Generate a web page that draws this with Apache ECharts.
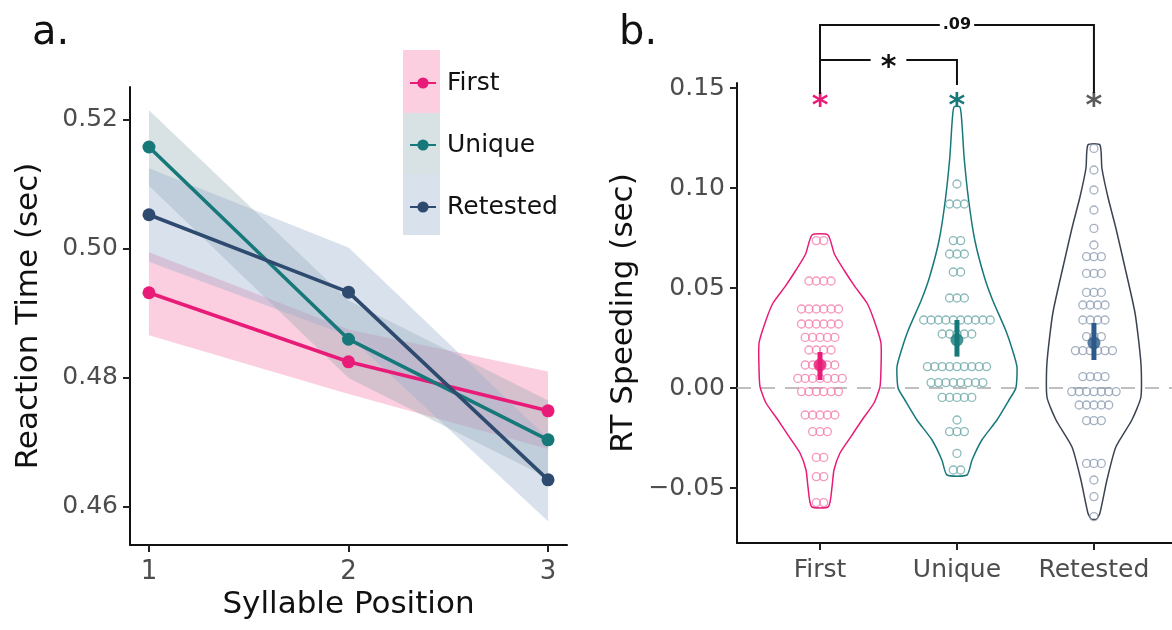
<!DOCTYPE html>
<html>
<head>
<meta charset="utf-8">
<script src="https://cdn.jsdelivr.net/npm/echarts@6/dist/echarts.min.js"></script>
<style>
  html, body { margin: 0; padding: 0; background: #fff; }
  #main { width: 1172px; height: 630px; }
</style>
</head>
<body>
<div id="main"></div>
<script>
// ---- panel a: reaction time by syllable position ----
var positions = [1, 2, 3];
var firstRT = [0.4932, 0.4825, 0.4749];
var firstLow = [0.4866, 0.4775, 0.4690];
var firstHigh = [0.4995, 0.4875, 0.4810];
var uniqueRT = [0.5158, 0.4860, 0.4704];
var uniqueLow = [0.5098, 0.4800, 0.4645];
var uniqueHigh = [0.5215, 0.4920, 0.4765];
var retestedRT = [0.5053, 0.4933, 0.4642];
var retestedLow = [0.4980, 0.4865, 0.4578];
var retestedHigh = [0.5125, 0.5002, 0.4706];
var rtTicks = [0.46, 0.48, 0.50, 0.52];

// ---- panel b: RT speeding ----
var groupNames = ['First', 'Unique', 'Retested'];
var speedTicks = [-0.05, 0, 0.05, 0.10, 0.15];
// dot rows: [value, count]
var firstDots = [[0.0737, 2], [0.0535, 4], [0.0395, 6], [0.032, 6], [0.0253, 5], [0.019, 4], [0.0115, 5],
  [0.0048, 7], [-0.0018, 6], [-0.0135, 5], [-0.0218, 3], [-0.0347, 2], [-0.0443, 2], [-0.0573, 2]];
var uniqueDots = [[0.102, 1], [0.092, 3], [0.0737, 2], [0.067, 3], [0.058, 2], [0.045, 3], [0.034, 10],
  [0.027, 5], [0.0107, 9], [0.0027, 8], [-0.0047, 5], [-0.016, 1], [-0.0218, 3], [-0.0327, 1], [-0.041, 2]];
var retestedDots = [[0.1198, 1], [0.109, 1], [0.099, 1], [0.089, 1], [0.0798, 1], [0.0715, 1], [0.0657, 3],
  [0.0573, 3], [0.0478, 3], [0.0415, 4], [0.034, 4], [0.0257, 3], [0.0187, 6], [0.0057, 4], [-0.0018, 7],
  [-0.0085, 5], [-0.0163, 3], [-0.0377, 3], [-0.046, 1], [-0.0543, 1], [-0.0643, 1]];
// violin outlines: [value, half width in category units]
var firstViolin = [[0.0765, 0.058], [0.067, 0.105], [0.059, 0.175], [0.0507, 0.255], [0.0425, 0.343],
  [0.034, 0.394], [0.0225, 0.445], [0.009, 0.445], [0.0007, 0.438], [-0.0075, 0.394], [-0.016, 0.307],
  [-0.0243, 0.226], [-0.0325, 0.146], [-0.041, 0.102], [-0.0493, 0.088], [-0.0593, 0.062]];
var uniqueViolin = [[0.1405, 0.022], [0.1325, 0.036], [0.1155, 0.052], [0.094, 0.085], [0.074, 0.13],
  [0.0555, 0.2], [0.044, 0.26], [0.029, 0.355], [0.019, 0.405], [0.0105, 0.438], [0.0, 0.43],
  [-0.006, 0.38], [-0.016, 0.292], [-0.026, 0.182], [-0.036, 0.11], [-0.0435, 0.073]];
var retestedViolin = [[0.1215, 0.044], [0.110, 0.058], [0.0955, 0.102], [0.08, 0.16], [0.0625, 0.219],
  [0.0375, 0.30], [0.0125, 0.343], [-0.0045, 0.343], [-0.016, 0.277], [-0.0295, 0.16], [-0.046, 0.095],
  [-0.0625, 0.044], [-0.0655, 0.02]];
var speedMean = [0.0115, 0.024, 0.0225];
var speedLow = [0.004, 0.0157, 0.014];
var speedHigh = [0.018, 0.034, 0.0325];
var starLevel = [0.144, 0.144, 0.144];
var brackets = [
  { from: 1, to: 2, y: 0.1640, endFrom: 0.1640, endTo: 0.1515, label: '*' },
  { from: 1, to: 3, y: 0.1815, endFrom: 0.1470, endTo: 0.1475, label: '.09' }
];

var COL = {
  first: '#E81C78', unique: '#17787A', retested: '#2E4B6F',
  firstBand: 'rgba(248,168,196,0.55)', uniqueBand: 'rgba(140,168,174,0.34)', retestedBand: 'rgba(150,172,204,0.36)',
  firstDot: '#F27FAD', uniqueDot: '#6FA9A9', retestedDot: '#8E9DB3',
  retestedViolin: '#3B4352', retestedMean: '#2C5A8A', retestedStar: '#5A5A5A'
};
var FONT = '"DejaVu Sans", Verdana, sans-serif';

function bandSeries(low, high, color) {
  var pts = positions.map(function (p, i) { return [p, low[i], high[i]]; });
  return {
    type: 'custom', xAxisIndex: 0, yAxisIndex: 0, silent: true, z: 1,
    data: pts,
    renderItem: function (params, api) {
      if (params.dataIndex !== 0) { return; }
      var top = pts.map(function (d) { return api.coord([d[0], d[2]]); });
      var bot = pts.slice().reverse().map(function (d) { return api.coord([d[0], d[1]]); });
      return { type: 'polygon', shape: { points: top.concat(bot) }, style: { fill: color } };
    }
  };
}

function lineSeries(name, vals, color) {
  return {
    name: name, type: 'line', xAxisIndex: 0, yAxisIndex: 0, z: 3,
    data: positions.map(function (p, i) { return [p, vals[i]]; }),
    symbol: 'circle', symbolSize: 13, color: color,
    lineStyle: { width: 3.6, color: color }, itemStyle: { color: color }
  };
}

var DOT_STEP = 0.054;
function dotSeries(rows, g, color) {
  var pts = [];
  rows.forEach(function (r) {
    for (var i = 0; i < r[1]; i++) { pts.push([g + (i - (r[1] - 1) / 2) * DOT_STEP, r[0]]); }
  });
  return {
    type: 'scatter', xAxisIndex: 1, yAxisIndex: 1, z: 3, silent: true,
    data: pts, symbol: 'circle', symbolSize: 8,
    itemStyle: { color: 'rgba(255,255,255,0)', borderColor: color, borderWidth: 1.3 }
  };
}

var violins = [firstViolin, uniqueViolin, retestedViolin];
var violinColors = [COL.first, COL.unique, COL.retestedViolin];

var option = {
  backgroundColor: '#fff',
  animation: false,
  textStyle: { fontFamily: FONT },
  title: [
    { text: 'a.', left: 27, top: 9, textStyle: { fontSize: 40, fontWeight: 'normal', color: '#111', fontFamily: FONT } },
    { text: 'b.', left: 614, top: 9, textStyle: { fontSize: 40, fontWeight: 'normal', color: '#111', fontFamily: FONT } }
  ],
  legend: {
    data: ['First', 'Unique', 'Retested'],
    orient: 'vertical', left: 404, top: 63,
    itemWidth: 26, itemHeight: 14, itemGap: 32,
    textStyle: { fontSize: 25, color: '#111', lineHeight: 30, padding: [0, 0, 0, 6], fontFamily: FONT }
  },
  graphic: [
    { type: 'rect', left: 403, top: 50, shape: { width: 37, height: 63 }, style: { fill: COL.firstBand }, z: -1 },
    { type: 'rect', left: 403, top: 113, shape: { width: 37, height: 61 }, style: { fill: COL.uniqueBand }, z: -1 },
    { type: 'rect', left: 403, top: 174, shape: { width: 37, height: 61 }, style: { fill: COL.retestedBand }, z: -1 }
  ],
  grid: [
    { left: 130, top: 87, width: 437, height: 458, outerBoundsMode: 'none' },
    { left: 737, top: 83, width: 435, height: 460, outerBoundsMode: 'none' }
  ],
  xAxis: [
    {
      type: 'value', gridIndex: 0, min: 0.905, max: 3.095,
      name: 'Syllable Position', nameLocation: 'middle', nameGap: 44,
      nameTextStyle: { fontSize: 31, color: '#111', fontFamily: FONT },
      axisLine: { onZero: false, lineStyle: { color: '#111', width: 2 } },
      axisTick: { customValues: positions, length: 7, lineStyle: { color: '#222', width: 2 } },
      axisLabel: { customValues: positions, fontSize: 26, color: '#4d4d4d', margin: 14 },
      splitLine: { show: false }
    },
    {
      type: 'value', gridIndex: 1, min: 0.394, max: 3.57,
      axisLine: { onZero: false, lineStyle: { color: '#111', width: 2 } },
      axisTick: { customValues: [1, 2, 3], length: 7, lineStyle: { color: '#222', width: 2 } },
      axisLabel: {
        customValues: [1, 2, 3], fontSize: 25, color: '#4d4d4d', margin: 15,
        formatter: function (v) { return groupNames[Math.round(v) - 1]; }
      },
      splitLine: { show: false }
    }
  ],
  yAxis: [
    {
      type: 'value', gridIndex: 0, min: 0.4541, max: 0.5251,
      name: 'Reaction Time (sec)', nameLocation: 'middle', nameGap: 86,
      nameTextStyle: { fontSize: 31, color: '#111', fontFamily: FONT },
      axisLine: { show: true, onZero: false, lineStyle: { color: '#111', width: 2 } },
      axisTick: { show: true, customValues: rtTicks, length: 7, lineStyle: { color: '#222', width: 2 } },
      axisLabel: {
        customValues: rtTicks, fontSize: 25, color: '#4d4d4d', margin: 12,
        formatter: function (v) { return v.toFixed(2); }
      },
      splitLine: { show: false }
    },
    {
      type: 'value', gridIndex: 1, min: -0.0775, max: 0.1525,
      name: 'RT Speeding (sec)', nameLocation: 'middle', nameGap: 98,
      nameTextStyle: { fontSize: 31, color: '#111', fontFamily: FONT },
      axisLine: { show: true, onZero: false, lineStyle: { color: '#111', width: 2 } },
      axisTick: { show: true, customValues: speedTicks, length: 7, lineStyle: { color: '#222', width: 2 } },
      axisLabel: {
        customValues: speedTicks, fontSize: 25, color: '#4d4d4d', margin: 12,
        formatter: function (v) { return (v < -1e-9 ? '\u2212' : '') + Math.abs(v).toFixed(2); }
      },
      splitLine: { show: false }
    }
  ],
  series: [
    bandSeries(firstLow, firstHigh, COL.firstBand),
    bandSeries(uniqueLow, uniqueHigh, COL.uniqueBand),
    bandSeries(retestedLow, retestedHigh, COL.retestedBand),
    lineSeries('First', firstRT, COL.first),
    lineSeries('Unique', uniqueRT, COL.unique),
    lineSeries('Retested', retestedRT, COL.retested),

    // zero reference across the whole panel
    {
      type: 'line', xAxisIndex: 1, yAxisIndex: 1, silent: true, z: 1,
      data: [[0.394, 0], [3.57, 0]], symbol: 'none',
      lineStyle: { color: '#ababab', type: [14, 10], width: 1.6 }
    },
    // violins
    {
      type: 'custom', xAxisIndex: 1, yAxisIndex: 1, silent: true, z: 2,
      data: [[1], [2], [3]],
      renderItem: function (params, api) {
        var g = params.dataIndex, prof = violins[g], cx = g + 1;
        var right = prof.map(function (p) { return api.coord([cx + p[1], p[0]]); });
        var left = prof.slice().reverse().map(function (p) { return api.coord([cx - p[1], p[0]]); });
        return {
          type: 'polygon', shape: { points: right.concat(left), smooth: 0.2 },
          style: { fill: 'none', stroke: violinColors[g], lineWidth: 1.5 }
        };
      }
    },
    dotSeries(firstDots, 1, COL.firstDot),
    dotSeries(uniqueDots, 2, COL.uniqueDot),
    dotSeries(retestedDots, 3, COL.retestedDot),
    // error bars
    {
      type: 'custom', xAxisIndex: 1, yAxisIndex: 1, silent: true, z: 4,
      data: groupNames.map(function (n, i) { return [i + 1, speedLow[i], speedHigh[i]]; }),
      renderItem: function (params, api) {
        var a = api.coord([api.value(0), api.value(1)]);
        var b = api.coord([api.value(0), api.value(2)]);
        var c = [COL.first, COL.unique, COL.retestedMean][params.dataIndex];
        return { type: 'line', shape: { x1: a[0], y1: a[1], x2: b[0], y2: b[1] }, style: { stroke: c, lineWidth: 5 } };
      }
    },
    {
      type: 'scatter', xAxisIndex: 1, yAxisIndex: 1, silent: true, z: 5, symbolSize: 13,
      data: groupNames.map(function (n, i) {
        return { value: [i + 1, speedMean[i]], itemStyle: { color: [COL.first, COL.unique, COL.retestedMean][i] } };
      })
    },
    // per-group significance stars
    {
      type: 'custom', xAxisIndex: 1, yAxisIndex: 1, silent: true, z: 5,
      data: groupNames.map(function (n, i) { return [i + 1, starLevel[i]]; }),
      renderItem: function (params, api) {
        var p = api.coord([api.value(0), api.value(1)]);
        return {
          type: 'text',
          style: {
            text: '*', x: p[0], y: p[1] + 7, align: 'center', verticalAlign: 'middle',
            font: 'bold 32px ' + FONT,
            fill: [COL.first, COL.unique, COL.retestedStar][params.dataIndex]
          }
        };
      }
    },
    // comparison brackets
    {
      type: 'custom', xAxisIndex: 1, yAxisIndex: 1, silent: true, z: 6, clip: false,
      data: brackets.map(function (b) { return [b.from, b.to, b.y, b.endFrom, b.endTo]; }),
      renderItem: function (params, api) {
        var b = brackets[params.dataIndex];
        var p1 = api.coord([b.from, b.endFrom]);
        var p2 = api.coord([b.from, b.y]);
        var p3 = api.coord([b.to, b.y]);
        var p4 = api.coord([b.to, b.endTo]);
        var mid = api.coord([(b.from + b.to) / 2, b.y]);
        var big = b.label === '*';
        return {
          type: 'group',
          children: [
            { type: 'polyline', shape: { points: [p1, p2, p3, p4] }, style: { stroke: '#111', lineWidth: 2, fill: 'none' } },
            {
              type: 'text', z2: 10,
              style: {
                text: b.label, x: mid[0], y: mid[1] + (big ? 8 : 0),
                align: 'center', verticalAlign: 'middle',
                font: (big ? 'bold 30px ' : 'bold 16px ') + FONT,
                fill: '#111', backgroundColor: '#fff', padding: big ? [0, 10, 0, 10] : [0, 3, 0, 3]
              }
            }
          ]
        };
      }
    }
  ]
};

var chart = echarts.init(document.getElementById('main'));
chart.setOption(option);
</script>
</body>
</html>
